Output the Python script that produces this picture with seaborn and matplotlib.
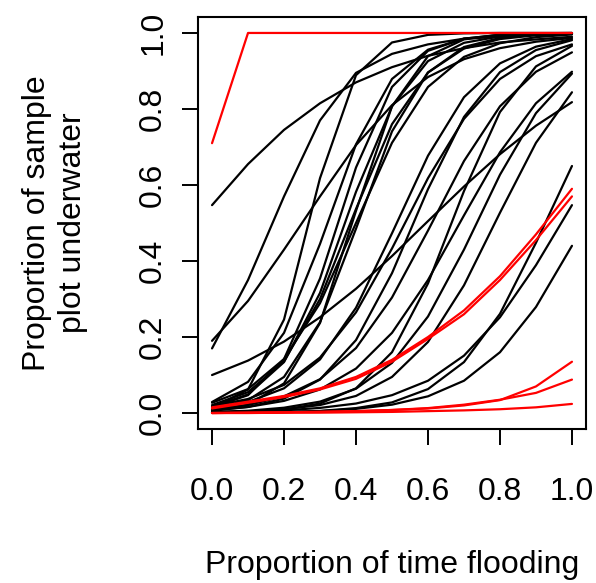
import matplotlib
matplotlib.use("Agg")
import matplotlib.pyplot as plt
import seaborn as sns
import pandas as pd

# proportion of time flooding (x) at which each curve is evaluated
x_vals = [0.0, 0.1, 0.2, 0.3, 0.4, 0.5, 0.6, 0.7, 0.8, 0.9, 1.0]
x_ticks = [0.0, 0.2, 0.4, 0.6, 0.8, 1.0]
y_ticks = [0.0, 0.2, 0.4, 0.6, 0.8, 1.0]
x_tick_labels = ["0.0", "0.2", "0.4", "0.6", "0.8", "1.0"]
y_tick_labels = ["0.0", "0.2", "0.4", "0.6", "0.8", "1.0"]

# black curves (proportion of sample plot underwater)
blk_h1 = [0.547, 0.655, 0.745, 0.815, 0.87, 0.91, 0.94, 0.96, 0.975, 0.983, 0.99]
blk_s1 = [0.17, 0.35, 0.57, 0.77, 0.895, 0.945, 0.97, 0.985, 0.99, 0.995, 0.998]
blk_s2 = [0.19, 0.295, 0.43, 0.57, 0.705, 0.81, 0.884, 0.931, 0.96, 0.977, 0.987]
blk_l3 = [0.10, 0.138, 0.188, 0.252, 0.327, 0.413, 0.505, 0.596, 0.681, 0.756, 0.818]
blk_a0 = [0.013, 0.062, 0.246, 0.618, 0.889, 0.975, 0.995, 0.999, 1.0, 1.0, 1.0]
blk_a1 = [0.029, 0.082, 0.211, 0.445, 0.707, 0.879, 0.956, 0.985, 0.995, 0.998, 0.999]
blk_a2 = [0.015, 0.047, 0.142, 0.354, 0.646, 0.858, 0.953, 0.985, 0.995, 0.998, 0.999]
blk_a3 = [0.017, 0.049, 0.134, 0.316, 0.582, 0.807, 0.926, 0.974, 0.991, 0.997, 0.999]
blk_a4 = [0.021, 0.055, 0.136, 0.30, 0.537, 0.76, 0.896, 0.959, 0.984, 0.994, 0.998]
blk_a5 = [0.006, 0.022, 0.078, 0.237, 0.532, 0.807, 0.939, 0.983, 0.995, 0.999, 1.0]
blk_a6 = [0.011, 0.034, 0.095, 0.239, 0.485, 0.741, 0.896, 0.963, 0.987, 0.996, 0.999]
blk_a7 = [0.027, 0.063, 0.142, 0.289, 0.50, 0.711, 0.858, 0.937, 0.973, 0.989, 0.996]
blk_b1 = [0.013, 0.029, 0.065, 0.141, 0.277, 0.473, 0.677, 0.831, 0.92, 0.964, 0.984]
blk_b2 = [0.018, 0.037, 0.074, 0.146, 0.265, 0.433, 0.618, 0.774, 0.879, 0.939, 0.970]
blk_b3 = [0.006, 0.016, 0.038, 0.088, 0.192, 0.368, 0.589, 0.779, 0.897, 0.955, 0.981]
blk_b4 = [0.010, 0.021, 0.044, 0.089, 0.171, 0.304, 0.48, 0.663, 0.807, 0.898, 0.949]
blk_b5 = [0.001, 0.004, 0.009, 0.025, 0.065, 0.16, 0.341, 0.584, 0.792, 0.912, 0.966]
blk_b6 = [0.008, 0.016, 0.032, 0.062, 0.117, 0.211, 0.35, 0.52, 0.686, 0.815, 0.898]
blk_b7 = [0.003, 0.006, 0.014, 0.030, 0.064, 0.132, 0.254, 0.43, 0.627, 0.789, 0.893]
blk_b8 = [0.002, 0.004, 0.010, 0.021, 0.045, 0.095, 0.187, 0.336, 0.527, 0.711, 0.844]
blk_la = [0.0005, 0.001, 0.002, 0.0055, 0.013, 0.028, 0.063, 0.134, 0.261, 0.448, 0.65]
blk_lb = [0.002, 0.004, 0.007, 0.0135, 0.025, 0.047, 0.085, 0.151, 0.252, 0.389, 0.547]
blk_lc = [0.0006, 0.001, 0.003, 0.005, 0.011, 0.022, 0.044, 0.085, 0.16, 0.279, 0.44]

# red curves
red_top = [0.71, 1.0, 1.0, 1.0, 1.0, 1.0, 1.0, 1.0, 1.0, 1.0, 1.0]
red_mid1 = [0.015, 0.03, 0.045, 0.065, 0.095, 0.14, 0.2, 0.27, 0.36, 0.47, 0.59]
red_mid2 = [0.012, 0.027, 0.042, 0.062, 0.09, 0.135, 0.195, 0.26, 0.35, 0.455, 0.57]
red_low1 = [0.0, 0.001, 0.002, 0.003, 0.005, 0.008, 0.012, 0.02, 0.034, 0.07, 0.135]
red_low2 = [0.0, 0.001, 0.002, 0.003, 0.005, 0.008, 0.013, 0.022, 0.035, 0.053, 0.088]
red_low3 = [0.0, 0.0, 0.001, 0.001, 0.002, 0.003, 0.005, 0.007, 0.01, 0.015, 0.024]

black_curves = [blk_h1, blk_s1, blk_s2, blk_l3, blk_a0, blk_a1, blk_a2, blk_a3,
                blk_a4, blk_a5, blk_a6, blk_a7, blk_b1, blk_b2, blk_b3, blk_b4,
                blk_b5, blk_b6, blk_b7, blk_b8, blk_la, blk_lb, blk_lc]
red_curves = [red_top, red_mid1, red_mid2, red_low1, red_low2, red_low3]

rows = []
uid = 0
for grp, curves in (("black", black_curves), ("red", red_curves)):
    for c in curves:
        for xv, yv in zip(x_vals, c):
            rows.append({"x": xv, "y": yv, "curve": uid, "group": grp})
        uid += 1
df = pd.DataFrame(rows)

sns.set_theme(style="ticks")
plt.rcParams["font.family"] = ["Liberation Sans", "DejaVu Sans"]
plt.rcParams["text.color"] = "black"
plt.rcParams["axes.labelcolor"] = "black"

W, H = 596, 583
fig = plt.figure(figsize=(W / 100, H / 100), dpi=100)
ax = fig.add_axes([198 / W, 1 - 429 / H, 388 / W, 412 / H])

sns.lineplot(data=df, x="x", y="y", units="curve", estimator=None,
             hue="group", palette={"black": "black", "red": "#ff0000"},
             hue_order=["black", "red"], linewidth=1.6, legend=False,
             sort=False, ax=ax)

ax.set_xlim(-0.039, 1.039)
ax.set_ylim(-0.042, 1.042)
ax.set_xticks(x_ticks)
ax.set_xticklabels(x_tick_labels)
ax.set_yticks(y_ticks)
ax.set_yticklabels(y_tick_labels, rotation=90, va="center")
ax.tick_params(axis="both", direction="out", length=11.5, width=1.4,
               colors="black", labelcolor="black", labelsize=23)
ax.tick_params(axis="x", pad=23)
ax.tick_params(axis="y", pad=10)
for s in ax.spines.values():
    s.set_visible(True)
    s.set_color("black")
    s.set_linewidth(1.5)

ax.set_xlabel("Proportion of time flooding", fontsize=23, va="center",
              color="black")
ax.xaxis.set_label_coords(0.5, (429 - 565) / 412)
ax.set_ylabel("Proportion of sample\nplot underwater", fontsize=23,
              va="center", ha="center", linespacing=1.25, color="black")
ax.yaxis.set_label_coords((55 - 198) / 388, 0.5)

fig.savefig("out.png", dpi=100, facecolor="white")
